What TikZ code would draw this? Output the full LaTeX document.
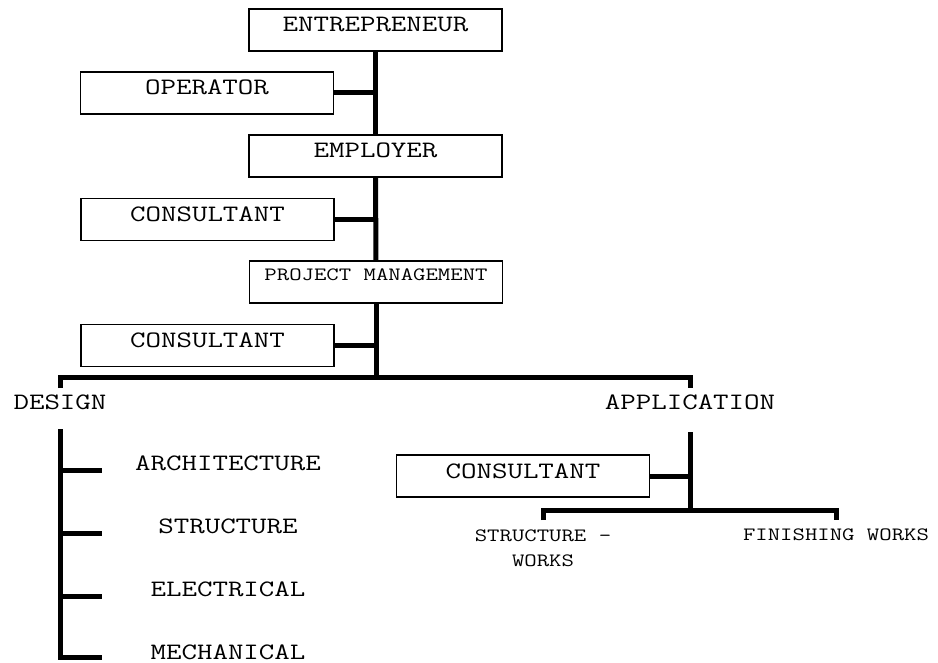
\documentclass[tikz,border=0pt]{standalone}
\usepackage{fontspec}
\setmainfont{Latin Modern Mono}[FakeStretch=1.28]
\tikzset{
  big/.style={font=\fontsize{23.5}{28}\selectfont},
  small/.style={font=\fontsize{18.8}{25}\selectfont},
  box/.style={draw, line width=1.3pt, inner sep=0pt, minimum width=253pt, text height=23pt, text depth=19pt},
  bar/.style={line width=5pt}
}

\begin{document}
\begin{tikzpicture}[x=1pt, y=-1pt]
	\useasboundingbox (0,0) rectangle (938,663);
  % nodes
	\node [box,big] (0) at (375.5,30) {ENTREPRENEUR};
	\node [box,big] (1) at (207,93) {OPERATOR};
	\node [box,big] (2) at (375.5,156) {EMPLOYER};
	\node [box,big] (3) at (207.5,219.5) {CONSULTANT};
	\node [box,small,text height=20pt,text depth=22pt] (4) at (376,282) {PROJECT MANAGEMENT};
	\node [box,big] (5) at (207.5,345.5) {CONSULTANT};
	\node [big,inner sep=0pt] (6) at (60,402) {DESIGN};
	\node [big,inner sep=0pt] (7) at (690,402) {APPLICATION};
	\coordinate (20) at (376,377);
	\coordinate (21) at (60,388);
	\coordinate (22) at (690,388);
	%% design
	\node [big,inner sep=0pt] (8) at (228,463.5) {ARCHITECTURE};
	\node [big,inner sep=0pt] (9) at (228,526.5) {STRUCTURE};
	\node [big,inner sep=0pt] (10) at (228,589.5) {ELECTRICAL};
	\node [big,inner sep=0pt] (11) at (228,652.5) {MECHANICAL};
	\coordinate (23) at (60,429);
	\coordinate (30) at (102,470.5);
	\coordinate (31) at (102,533.5);
	\coordinate (32) at (102,596.5);
	\coordinate (33) at (102,657.5);
	%% application
	\node [box,big] (12) at (523,476) {CONSULTANT};
	\node [small,inner sep=0pt,align=center] (13) at (543,548) {STRUCTURE -\\WORKS};
	\node [small,inner sep=0pt] (14) at (836,535) {FINISHING WORKS};
	\coordinate (24) at (690,432);
	\coordinate (25) at (690,510);
	\coordinate (26) at (543,520);
	\coordinate (27) at (836,520);
	% edges
	\draw [bar] (0) -- (2);
	\draw [bar] (2) -- (4);
	\draw [bar] (4) -- (20);
	\draw [bar] (1) -- (1 -| 20);
	\draw [bar] (3) -- (3 -| 20);
	\draw [bar] (5) -- (5 -| 20);
	\draw [bar] (21) |- (20) -| (22);
	%% design
	\draw [bar] (23) |- (33);
	\draw [bar] (23 |- 30) -- (30);
	\draw [bar] (23 |- 31) -- (31);
	\draw [bar] (23 |- 32) -- (32);
	%% application
	\draw [bar] (24) -- (25);
	\draw [bar] (12) -- (12 -| 24);
	\draw [bar] (26) |- (25) -| (27);
\end{tikzpicture}
\end{document}
